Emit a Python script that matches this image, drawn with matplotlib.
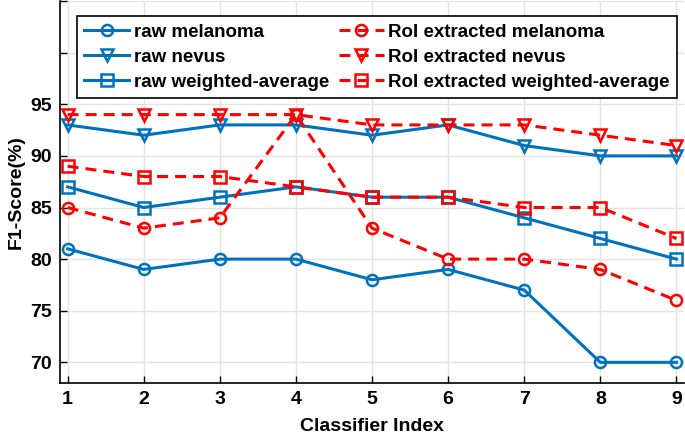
import matplotlib
matplotlib.use('Agg')
import matplotlib.pyplot as plt

# classifier index 1..9
classifiers = [1, 2, 3, 4, 5, 6, 7, 8, 9]

raw_melanoma = [81, 79, 80, 80, 78, 79, 77, 70, 70]
raw_nevus = [93, 92, 93, 93, 92, 93, 91, 90, 90]
raw_weighted = [87, 85, 86, 87, 86, 86, 84, 82, 80]

roi_melanoma = [85, 83, 84, 94, 83, 80, 80, 79, 76]
roi_nevus = [94, 94, 94, 94, 93, 93, 93, 92, 91]
roi_weighted = [89, 88, 88, 87, 86, 86, 85, 85, 82]

yticks = [70, 75, 80, 85, 90, 95, 100, 105]
ytick_labels = ['70', '75', '80', '85', '90', '95', '', '']

plt.rcParams['font.family'] = ['Liberation Sans', 'DejaVu Sans']
plt.rcParams['font.weight'] = 'bold'

BLUE = '#0072BD'
RED = '#FF0000'

fig = plt.figure(figsize=(6.85, 4.38), dpi=100)
ax = fig.add_axes([0.0876, 0.1256, 0.911, 0.872])

style = dict(linewidth=2.2, markersize=8, markerfacecolor='none', markeredgewidth=1.8)
dash = dict(dashes=(3.6, 2.3))
ax.plot(classifiers, raw_melanoma, 'o-', color=BLUE, label='raw melanoma', **style)
ax.plot(classifiers, raw_nevus, 'v-', color=BLUE, label='raw nevus', **style)
ax.plot(classifiers, raw_weighted, 's-', color=BLUE, label='raw weighted-average', **style)
ax.plot(classifiers, roi_melanoma, 'o--', color=RED, label='RoI extracted melanoma', **style, **dash)
ax.plot(classifiers, roi_nevus, 'v--', color=RED, label='RoI extracted nevus', **style, **dash)
ax.plot(classifiers, roi_weighted, 's--', color=RED, label='RoI extracted weighted-average', **style, **dash)

ax.set_xlim(0.9, 9.1)
ax.set_ylim(68, 105)
ax.set_xticks(classifiers)
ax.set_yticks(yticks)
ax.set_yticklabels(ytick_labels)
ax.tick_params(direction='in', labelsize=14, length=5, width=1, pad=6)
for lbl in ax.get_xticklabels() + ax.get_yticklabels():
    lbl.set_fontweight('bold')

ax.grid(True, color='#e3e3e3', linewidth=1)
ax.set_axisbelow(True)
ax.spines['top'].set_visible(False)
ax.spines['right'].set_visible(False)
ax.spines['left'].set_linewidth(1.2)
ax.spines['bottom'].set_linewidth(1.2)

ax.set_xlabel('Classifier Index', fontsize=14, fontweight='bold', labelpad=7)
ax.set_ylabel('F1-Score(%)', fontsize=14, fontweight='bold', labelpad=4)

leg = ax.legend(ncol=2, loc='upper left', bbox_to_anchor=(0.012, 0.985),
                fontsize=13.5, frameon=True, fancybox=False, framealpha=1,
                edgecolor='black', handlelength=2.4, columnspacing=0.5,
                handletextpad=0.25, borderpad=0.4, labelspacing=0.42)
leg.get_frame().set_linewidth(1.2)
for t in leg.get_texts():
    t.set_fontweight('bold')

fig.savefig('out.png', dpi=100)
